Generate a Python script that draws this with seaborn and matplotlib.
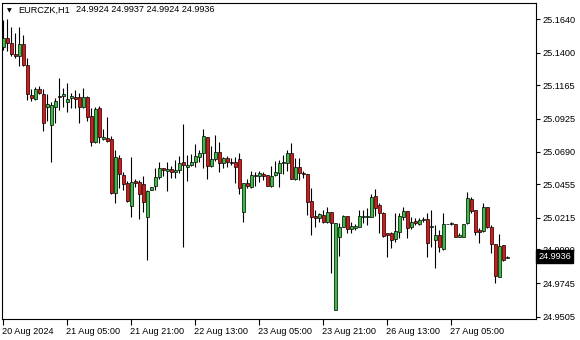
import matplotlib
matplotlib.use("Agg")
import matplotlib.pyplot as plt
import matplotlib.transforms as mtransforms
import seaborn as sns
import numpy as np

# ---- data (EURCZK, H1) ----
opens = [25.1442, 25.1506, 25.1470, 25.1391, 25.1377, 25.1463, 25.1312, 25.1097, 25.1068, 25.1140,
         25.1104, 25.1011, 25.0881, 25.1011, 25.1090, 25.1090, 25.1047, 25.1075, 25.1083, 25.1083,
         25.1011, 25.1083, 25.0946, 25.0760, 25.1004, 25.0781, 25.0788, 25.0781, 25.0393, 25.0644,
         25.0522, 25.0465, 25.0300, 25.0479, 25.0472, 25.0458, 25.0221, 25.0415, 25.0444, 25.0508,
         25.0573, 25.0551, 25.0565, 25.0544, 25.0558, 25.0616, 25.0580, 25.0594, 25.0616, 25.0652,
         25.0680, 25.0795, 25.0587, 25.0637, 25.0688, 25.0609, 25.0644, 25.0616, 25.0616, 25.0637,
         25.0257, 25.0465, 25.0436, 25.0515, 25.0515, 25.0529, 25.0522, 25.0444, 25.0522, 25.0537,
         25.0609, 25.0609, 25.0680, 25.0494, 25.0580, 25.0537, 25.0529, 25.0336, 25.0228, 25.0214,
         25.0235, 25.0185, 25.0257, 24.9553, 25.0077, 25.0149, 25.0228, 25.0135, 25.0142, 25.0149,
         25.0221, 25.0221, 25.0221, 25.0372, 25.0307, 25.0250, 25.0106, 25.0106, 25.0063, 25.0113,
         25.0221, 25.0264, 25.0149, 25.0192, 25.0171, 25.0199, 25.0207, 25.0149, 25.0056, 25.0092,
         24.9991, 25.0171, 25.0171, 25.0171, 25.0077, 25.0077, 25.0178, 25.0350, 25.0271, 25.0128,
         25.0120, 25.0293, 25.0149, 25.0027, 24.9790, 25.0020, 24.9924]
highs = [25.1635, 25.1642, 25.1586, 25.1542, 25.1586, 25.1528, 25.1362, 25.1140, 25.1155, 25.1162,
         25.1140, 25.1104, 25.1047, 25.1075, 25.1219, 25.1147, 25.1183, 25.1111, 25.1133, 25.1111,
         25.1147, 25.1090, 25.1004, 25.1011, 25.1018, 25.0853, 25.0939, 25.0803, 25.0702, 25.0666,
         25.0544, 25.0479, 25.0652, 25.0494, 25.0487, 25.0515, 25.0415, 25.0436, 25.0573, 25.0616,
         25.0573, 25.0616, 25.0587, 25.0630, 25.0659, 25.0889, 25.0666, 25.0673, 25.0745, 25.0702,
         25.0853, 25.0795, 25.0731, 25.0810, 25.0760, 25.0652, 25.0659, 25.0644, 25.0652, 25.0680,
         25.0465, 25.0494, 25.0551, 25.0544, 25.0551, 25.0544, 25.0522, 25.0587, 25.0623, 25.0630,
         25.0666, 25.0702, 25.0752, 25.0644, 25.0644, 25.0551, 25.0529, 25.0429, 25.0271, 25.0250,
         25.0271, 25.0293, 25.0257, 25.0178, 25.0178, 25.0235, 25.0228, 25.0185, 25.0171, 25.0271,
         25.0271, 25.0286, 25.0386, 25.0422, 25.0321, 25.0257, 25.0106, 25.0113, 25.0250, 25.0250,
         25.0293, 25.0264, 25.0221, 25.0214, 25.0214, 25.0221, 25.0250, 25.0271, 25.0164, 25.0128,
         25.0250, 25.0171, 25.0185, 25.0171, 25.0106, 25.0171, 25.0401, 25.0365, 25.0271, 25.0142,
         25.0321, 25.0293, 25.0164, 25.0027, 25.0099, 25.0020, 24.9937]
lows = [25.1420, 25.1413, 25.1377, 25.1362, 25.1305, 25.1305, 25.1061, 25.1054, 25.1061, 25.1104,
        25.0839, 25.0910, 25.0616, 25.0895, 25.0989, 25.1011, 25.0975, 25.1004, 25.1004, 25.0895,
        25.1004, 25.0910, 25.0731, 25.0752, 25.0752, 25.0774, 25.0760, 25.0386, 25.0321, 25.0429,
        25.0415, 25.0329, 25.0221, 25.0436, 25.0207, 25.0257, 24.9912, 25.0415, 25.0415, 25.0494,
        25.0515, 25.0408, 25.0501, 25.0501, 25.0537, 25.0006, 25.0479, 25.0587, 25.0580, 25.0616,
        25.0573, 25.0494, 25.0580, 25.0623, 25.0544, 25.0573, 25.0580, 25.0594, 25.0465, 25.0386,
        25.0185, 25.0429, 25.0429, 25.0444, 25.0472, 25.0487, 25.0444, 25.0436, 25.0515, 25.0436,
        25.0529, 25.0551, 25.0494, 25.0487, 25.0487, 25.0501, 25.0235, 25.0092, 25.0149, 25.0185,
        25.0178, 25.0178, 24.9819, 24.9553, 24.9941, 25.0149, 25.0106, 25.0106, 25.0128, 25.0149,
        25.0178, 25.0164, 25.0221, 25.0228, 25.0106, 25.0077, 24.9934, 24.9998, 25.0041, 25.0070,
        25.0199, 25.0070, 25.0135, 25.0164, 25.0164, 25.0185, 24.9934, 25.0006, 24.9855, 24.9970,
        24.9984, 25.0168, 25.0164, 25.0077, 25.0077, 25.0077, 25.0171, 25.0250, 25.0092, 25.0034,
        25.0113, 25.0142, 24.9963, 24.9747, 24.9790, 24.9905, 24.9924]
closes = [25.1506, 25.1470, 25.1391, 25.1377, 25.1463, 25.1312, 25.1104, 25.1075, 25.1140, 25.1111,
          25.0895, 25.1032, 25.1025, 25.1054, 25.1083, 25.1104, 25.1068, 25.1090, 25.1068, 25.1011,
          25.1083, 25.0939, 25.0760, 25.0996, 25.0795, 25.0795, 25.0767, 25.0393, 25.0652, 25.0529,
          25.0458, 25.0336, 25.0472, 25.0465, 25.0386, 25.0329, 25.0408, 25.0436, 25.0508, 25.0573,
          25.0558, 25.0565, 25.0544, 25.0558, 25.0609, 25.0594, 25.0594, 25.0616, 25.0659, 25.0680,
          25.0803, 25.0587, 25.0637, 25.0688, 25.0609, 25.0644, 25.0616, 25.0609, 25.0580, 25.0429,
          25.0465, 25.0444, 25.0522, 25.0522, 25.0537, 25.0515, 25.0444, 25.0515, 25.0544, 25.0609,
          25.0616, 25.0680, 25.0494, 25.0580, 25.0537, 25.0529, 25.0329, 25.0221, 25.0214, 25.0243,
          25.0185, 25.0257, 25.0178, 25.0178, 25.0149, 25.0228, 25.0135, 25.0156, 25.0156, 25.0228,
          25.0228, 25.0228, 25.0365, 25.0286, 25.0250, 25.0084, 25.0092, 25.0056, 25.0120, 25.0228,
          25.0264, 25.0142, 25.0185, 25.0178, 25.0199, 25.0207, 25.0034, 25.0156, 25.0092, 25.0006,
          25.0171, 25.0171, 25.0178, 25.0077, 25.0092, 25.0171, 25.0358, 25.0264, 25.0113, 25.0113,
          25.0293, 25.0149, 25.0027, 24.9797, 25.0013, 24.9912, 24.9936]

time_labels = ["20 Aug 2024", "21 Aug 05:00", "21 Aug 21:00", "22 Aug 13:00",
               "23 Aug 05:00", "23 Aug 21:00", "26 Aug 13:00", "27 Aug 05:00"]
label_every = 16
price_ticks = [25.1640, 25.1400, 25.1165, 25.0925, 25.0690, 25.0455, 25.0215, 24.9990, 24.9745, 24.9505]
price_tick_labels = ["25.1640", "25.1400", "25.1165", "25.0925", "25.0690", "25.0455",
                     "25.0215", "24.9990", "24.9745", "24.9505"]
symbol = "EURCZK,H1"
last_price = 24.9936

# ---- style ----
sns.set_style("white")
plt.rcParams['font.family'] = ['Liberation Sans', 'DejaVu Sans']

bull_color = "#33c23e"
bear_color = "#e41414"

o = np.array(opens); h = np.array(highs); l = np.array(lows); c = np.array(closes)
idx = np.arange(len(o))
colors = [bull_color if cc >= oo else bear_color for oo, cc in zip(o, c)]

fig = plt.figure(figsize=(5.8, 3.4), dpi=100)
ax = fig.add_axes([2/580, 21/340, 534/580, 316/340])

ax.vlines(idx, l, h, color="black", linewidth=0.8, zorder=2)
ax.bar(idx, np.abs(c - o), bottom=np.minimum(o, c), width=0.75,
       color=colors, edgecolor="black", linewidth=0.5, zorder=3)

ax.set_xlim(-0.25, 133.25)
ax.set_ylim(24.9488, 25.1757)

for s in ax.spines.values():
    s.set_color("black")
    s.set_linewidth(0.8)

ax.yaxis.tick_right()
ax.set_yticks(price_ticks)
ax.set_yticklabels(price_tick_labels)
ax.tick_params(axis="y", direction="out", length=3, width=0.8, pad=1.5,
               labelsize=6.6, colors="black", right=True, left=False)

xt = [i * label_every for i in range(len(time_labels))]
ax.set_xticks(xt)
ax.set_xticklabels(time_labels)
ax.tick_params(axis="x", direction="out", length=4, width=0.8, pad=2,
               labelsize=6.6, colors="black", bottom=True)
offset = mtransforms.ScaledTranslation(-1/100, 0, fig.dpi_scale_trans)
for lab in ax.get_xticklabels():
    lab.set_ha("left")
    lab.set_transform(lab.get_transform() + offset)

ax.grid(False)

# current price box
trans = mtransforms.blended_transform_factory(ax.transAxes, ax.transData)
ax.text(1.0 + 2.5/534, last_price, f"{last_price:.4f}", transform=trans,
        ha="left", va="center", fontsize=6.6, color="white", zorder=10, clip_on=False,
        bbox=dict(boxstyle="square,pad=0.22", fc="black", ec="black"))

# header
fig.text(9/580, 1 - 10.5/340, "▼", fontsize=4.5, ha="center", va="center",
         family=["DejaVu Sans"], color="black")
fig.text(18/580, 1 - 10/340, symbol, fontsize=6.6, ha="left", va="center", color="black")
fig.text(76/580, 1 - 10/340, f"{opens[-1]:.4f} {highs[-1]:.4f} {lows[-1]:.4f} {closes[-1]:.4f}",
         fontsize=6.6, ha="left", va="center", color="black")

fig.savefig("out.png", dpi=100, facecolor="white")
